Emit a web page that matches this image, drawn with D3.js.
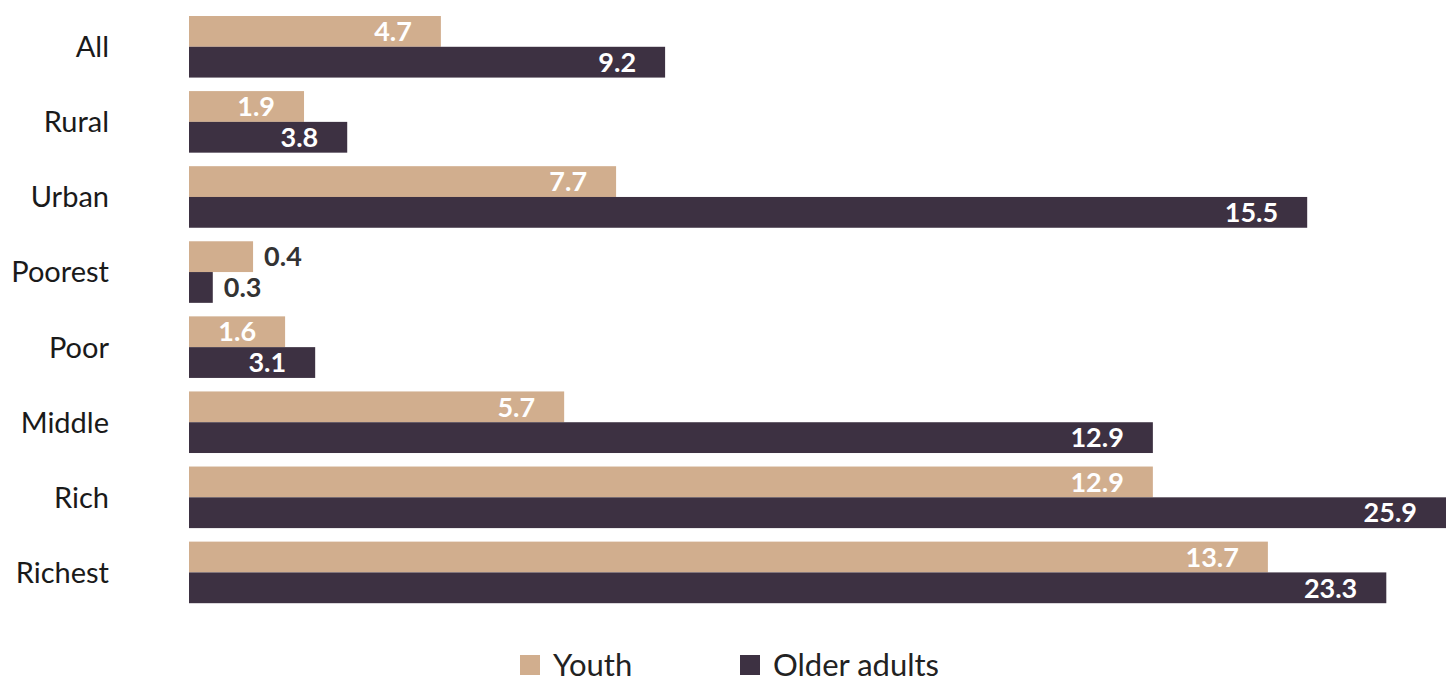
<!DOCTYPE html>
<html>
<head>
<meta charset="utf-8">
<script src="https://cdn.jsdelivr.net/npm/d3@7"></script>
<style>
  html, body { margin: 0; padding: 0; background: #fff; }
  svg { display: block; font-family: Lato, "Open Sans", sans-serif; }
</style>
</head>
<body>
<div id="chart"></div>
<script>
// categories and printed values
var categories = ["All", "Rural", "Urban", "Poorest", "Poor", "Middle", "Rich", "Richest"];
var youthLabels = ["4.7", "1.9", "7.7", "0.4", "1.6", "5.7", "12.9", "13.7"];
var olderLabels = ["9.2", "3.8", "15.5", "0.3", "3.1", "12.9", "25.9", "23.3"];
// bar lengths as drawn in the picture (the printed figures are not to scale)
var youthLengths = [5.19, 2.37, 8.80, 1.32, 1.98, 7.73, 19.86, 22.23];
var olderLengths = [9.81, 3.26, 23.04, 0.49, 2.60, 19.86, 25.90, 24.67];
var seriesNames = ["Youth", "Older adults"];

var colors = { "Youth": "#d1ae8e", "Older adults": "#3d3142" };

var width = 1446, height = 678;
var margin = { top: 16, right: 0, bottom: 75, left: 189 };

var rows = categories.map(function (c, i) {
    return {
        cat: c,
        values: [
            { key: "Youth", len: youthLengths[i], label: youthLabels[i] },
            { key: "Older adults", len: olderLengths[i], label: olderLabels[i] }
        ]
    };
});

var svg = d3.select("#chart").append("svg")
    .attr("width", width)
    .attr("height", height);

var x = d3.scaleLinear()
    .domain([0, d3.max(olderLengths)])
    .range([margin.left, width - margin.right]);

var y = d3.scaleBand()
    .domain(categories)
    .range([margin.top, margin.top + 587.2])
    .paddingInner(0.18)
    .paddingOuter(0);

var ySub = d3.scaleBand()
    .domain(seriesNames)
    .range([0, y.bandwidth()]);

// category labels
svg.append("g").selectAll("text")
    .data(categories)
    .join("text")
    .attr("x", 109)
    .attr("y", function (d) { return y(d) + y.bandwidth() / 2; })
    .attr("dy", "0.36em")
    .attr("text-anchor", "end")
    .attr("font-size", 29)
    .attr("fill", "#1a1a1a")
    .text(function (d) { return d; });

var groups = svg.append("g").selectAll("g")
    .data(rows)
    .join("g")
    .attr("transform", function (d) { return "translate(0," + y(d.cat) + ")"; });

groups.selectAll("rect")
    .data(function (d) { return d.values; })
    .join("rect")
    .attr("x", x(0))
    .attr("y", function (d) { return ySub(d.key); })
    .attr("width", function (d) { return x(d.len) - x(0); })
    .attr("height", ySub.bandwidth())
    .attr("fill", function (d) { return colors[d.key]; });

groups.selectAll("text")
    .data(function (d) { return d.values; })
    .join("text")
    .each(function (d) {
        var w = x(d.len) - x(0);
        var inside = w > 80;
        d3.select(this)
            .attr("x", inside ? x(d.len) - 29 : x(d.len) + 11)
            .attr("text-anchor", inside ? "end" : "start")
            .attr("fill", inside ? "#ffffff" : "#333333");
    })
    .attr("y", function (d) { return ySub(d.key) + ySub.bandwidth() / 2; })
    .attr("dy", "0.36em")
    .attr("font-size", 27)
    .attr("font-weight", 700)
    .text(function (d) { return d.label; });

// legend
var legendX = [520, 740];
var legend = svg.append("g").selectAll("g")
    .data(seriesNames)
    .join("g")
    .attr("transform", function (d, i) { return "translate(" + legendX[i] + ",655)"; });

legend.append("rect")
    .attr("width", 20)
    .attr("height", 20)
    .attr("fill", function (d) { return colors[d]; });

legend.append("text")
    .attr("x", 33)
    .attr("y", 10)
    .attr("dy", "0.34em")
    .attr("font-size", 31)
    .attr("fill", "#222")
    .text(function (d) { return d; });
</script>
</body>
</html>
